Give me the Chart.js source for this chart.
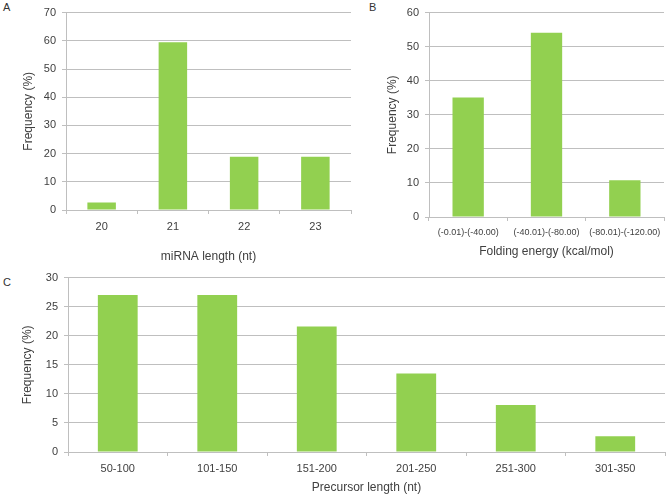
<!DOCTYPE html>
<html>
<head>
<meta charset="utf-8">
<script src="https://cdn.jsdelivr.net/npm/chart.js@4/dist/chart.umd.min.js"></script>
<style>
  body { margin: 0; background: #fff; width: 667px; height: 503px; position: relative; overflow: hidden;
         font-family: "Liberation Sans", Arial, sans-serif; }
  canvas { position: absolute; }
  .tag { position: absolute; font-size: 11px; line-height: 11px; color: #333; }
</style>
</head>
<body>
<div class="tag" style="left:3px;top:2px">A</div>
<div class="tag" style="left:369px;top:2px">B</div>
<div class="tag" style="left:3px;top:277px">C</div>
<canvas id="chartA" width="355" height="270" style="left:0;top:0"></canvas>
<canvas id="chartB" width="332" height="270" style="left:335px;top:0"></canvas>
<canvas id="chartC" width="667" height="238" style="left:0;top:265px"></canvas>
<script>
// panel A - mature miRNA length
const lengthLabels = ['20', '21', '22', '23'];
const lengthFreq = [2.7, 59.5, 18.9, 18.9];

// panel B - folding energy
const energyLabels = ['(-0.01)-(-40.00)', '(-40.01)-(-80.00)', '(-80.01)-(-120.00)'];
const energyFreq = [35.1, 54.1, 10.8];

// panel C - precursor length
const precursorLabels = ['50-100', '101-150', '151-200', '201-250', '251-300', '301-350'];
const precursorFreq = [27.0, 27.0, 21.6, 13.5, 8.1, 2.7];

const barColor = '#92d050';
const gridColor = '#bfbfbf';
const textColor = '#404040';
Chart.defaults.font.family = '"Liberation Sans", Arial, sans-serif';

function makeChart(id, labels, values, cfg) {
  new Chart(document.getElementById(id), {
    type: 'bar',
    data: {
      labels: labels,
      datasets: [{
        data: values,
        backgroundColor: barColor,
        barPercentage: 0.4,
        categoryPercentage: 1
      }]
    },
    options: {
      responsive: false,
      animation: false,
      layout: { padding: cfg.padding },
      plugins: {
        legend: { display: false },
        tooltip: { enabled: false }
      },
      scales: {
        x: {
          grid: { drawOnChartArea: false, tickLength: 4, color: gridColor },
          border: { color: gridColor },
          ticks: { font: { size: cfg.xTickSize }, color: textColor, padding: 6, maxRotation: 0, autoSkip: false },
          title: { display: true, text: cfg.xTitle, font: { size: 12 }, color: textColor },
          afterFit: (s) => { s.height = cfg.xHeight; }
        },
        y: {
          min: 0,
          max: cfg.yMax,
          ticks: { stepSize: cfg.yStep, font: { size: 11 }, color: textColor, padding: 6 },
          grid: { tickLength: 4, color: gridColor },
          border: { color: gridColor },
          title: { display: true, text: 'Frequency (%)', font: { size: 12 }, color: textColor },
          afterFit: (s) => { s.width = cfg.yWidth; }
        }
      }
    }
  });
}

makeChart('chartA', lengthLabels, lengthFreq, {
  padding: { left: 17, top: 7, right: 4, bottom: 2 },
  yWidth: 49, xHeight: 58, yMax: 70, yStep: 10, xTickSize: 11,
  xTitle: 'miRNA length (nt)'
});

makeChart('chartB', energyLabels, energyFreq, {
  padding: { left: 46, top: 6, right: 3, bottom: 7 },
  yWidth: 48, xHeight: 46, yMax: 60, yStep: 10, xTickSize: 9,
  xTitle: 'Folding energy (kcal/mol)'
});

makeChart('chartC', precursorLabels, precursorFreq, {
  padding: { left: 16, top: 12, right: 2, bottom: 4 },
  yWidth: 52, xHeight: 47, yMax: 30, yStep: 5, xTickSize: 11,
  xTitle: 'Precursor length (nt)'
});
</script>
</body>
</html>
